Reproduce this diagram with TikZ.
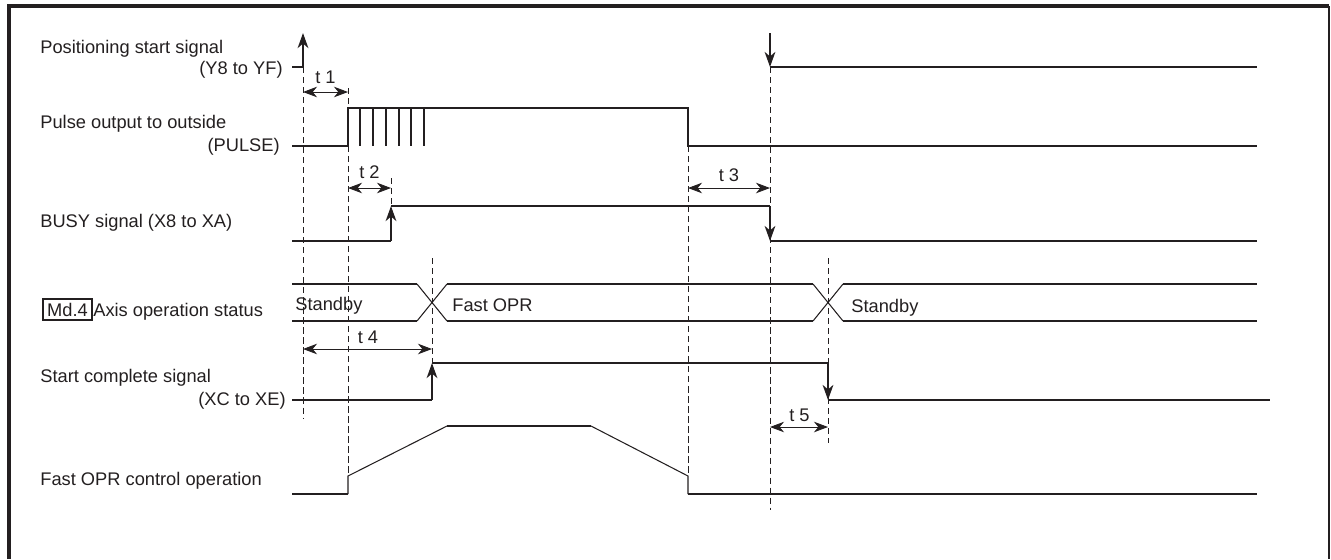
\documentclass[tikz,border=0pt]{standalone}
\usepackage{fontspec}
\setmainfont{Liberation Sans}
\usetikzlibrary{arrows.meta}
\definecolor{inkgray}{RGB}{35,31,32}

\tikzset{
  sig/.style={inkgray, line width=1.6pt},
  thinsig/.style={inkgray, line width=0.6pt},
  sigarrow/.style={sig, -{Stealth[length=8.5pt,width=6pt,inset=2.5pt]}},
  guide/.style={inkgray, line width=0.5pt, dash pattern=on 3.5pt off 2.2pt},
  dimarrow/.style={inkgray, line width=0.5pt, {Stealth[length=8pt,width=6pt,inset=2.5pt]}-{Stealth[length=8pt,width=6pt,inset=2.5pt]}},
  lbl/.style={inkgray, inner sep=0pt, font=\fontsize{10.4}{12}\selectfont},
}

\begin{document}
\begin{tikzpicture}[x=0.02cm, y=-0.02cm]
\useasboundingbox (0,0) rectangle (1331,559);

% frame
\draw[inkgray, line width=2.2pt] (9,559) -- (9,6) -- (1329,6);
\draw[inkgray, line width=1pt] (1329,6) -- (1329,559);

% signal names
\node[lbl, anchor=base west] (startname) at (40,53) {Positioning start signal};
\node[lbl, anchor=base east] (startdev) at (283,74) {(Y8 to YF)};
\node[lbl, anchor=base west] (pulsename) at (40,128) {Pulse output to outside};
\node[lbl, anchor=base east] (pulsedev) at (280,151) {(PULSE)};
\node[lbl, anchor=base west] (busyname) at (40,227) {BUSY signal (X8 to XA)};
\node[lbl, draw=inkgray, line width=1pt, minimum width=0.98cm, minimum height=0.42cm] (md4) at (67.5,309.5) {Md.4};
\node[lbl, anchor=base west] (statusname) at (93,316) {Axis operation status};
\node[lbl, anchor=base west] (donename) at (40,382) {Start complete signal};
\node[lbl, anchor=base east] (donedev) at (286,405) {(XC to XE)};
\node[lbl, anchor=base west] (oprname) at (40,485) {Fast OPR control operation};

% dashed guides
\draw[guide] (303,67) -- (303,419);
\draw[guide] (348,88) -- (348,108);
\draw[guide] (348,146) -- (348,476);
\draw[guide] (391,178) -- (391,206);
\draw[guide] (432,258) -- (432,363);
\draw[guide] (688,146) -- (688,476);
\draw[guide] (770,67) -- (770,510);
\draw[guide] (828,258) -- (828,443);

% positioning start signal
\draw[sig] (292,67) -- (303,67);
\draw[sigarrow] (303,67) -- (303,33);
\draw[sigarrow] (770,33) -- (770,67);
\draw[sig] (770,67) -- (1257,67);

% pulse output
\draw[sig] (292,146) -- (348,146) -- (348,108) -- (688,108) -- (688,146) -- (1257,146);
\foreach \x in {360,373,386,399,411,424}
  \draw[thinsig] (\x,108) -- (\x,146);

% BUSY signal
\draw[sig] (292,241) -- (391,241);
\draw[sigarrow] (391,241) -- (391,206);
\draw[sig] (391,206) -- (770,206);
\draw[sigarrow] (770,206) -- (770,241);
\draw[sig] (770,241) -- (1257,241);

% axis operation status
\draw[sig] (292,284) -- (417,284) (447,284) -- (813,284) (843,284) -- (1257,284);
\draw[sig] (292,321) -- (417,321) (447,321) -- (813,321) (843,321) -- (1257,321);
\draw[thinsig] (417,284) -- (447,321) (417,321) -- (447,284);
\draw[thinsig] (813,284) -- (843,321) (813,321) -- (843,284);
\node[lbl, anchor=base west] (stby1) at (295,310) {Standby};
\node[lbl, anchor=base west] (fastopr) at (452,311) {Fast OPR};
\node[lbl, anchor=base west] (stby2) at (851,312) {Standby};

% start complete signal
\draw[sig] (292,400) -- (432,400);
\draw[sigarrow] (432,400) -- (432,363);
\draw[sig] (432,363) -- (828,363);
\draw[sigarrow] (828,363) -- (828,400);
\draw[sig] (828,400) -- (1270,400);

% fast OPR control operation
\draw[sig] (292,494) -- (348,494);
\draw[thinsig] (348,494) -- (348,476) -- (447,426);
\draw[inkgray, line width=1pt] (447,426) -- (591,426);
\draw[thinsig] (591,426) -- (688,476) -- (688,494);
\draw[sig] (688,494) -- (1257,494);

% timing marks
\draw[dimarrow] (303,92) -- (348,92);
\node[lbl, anchor=base] (t1) at (325.5,83) {t 1};
\draw[dimarrow] (348,188) -- (391,188);
\node[lbl, anchor=base] (t2) at (369.5,178) {t 2};
\draw[dimarrow] (688,188) -- (770,188);
\node[lbl, anchor=base] (t3) at (729,181) {t 3};
\draw[dimarrow] (303,349) -- (432,349);
\node[lbl, anchor=base] (t4) at (368,343) {t 4};
\draw[dimarrow] (770,427) -- (828,427);
\node[lbl, anchor=base] (t5) at (799.5,421) {t 5};

\end{tikzpicture}
\end{document}
